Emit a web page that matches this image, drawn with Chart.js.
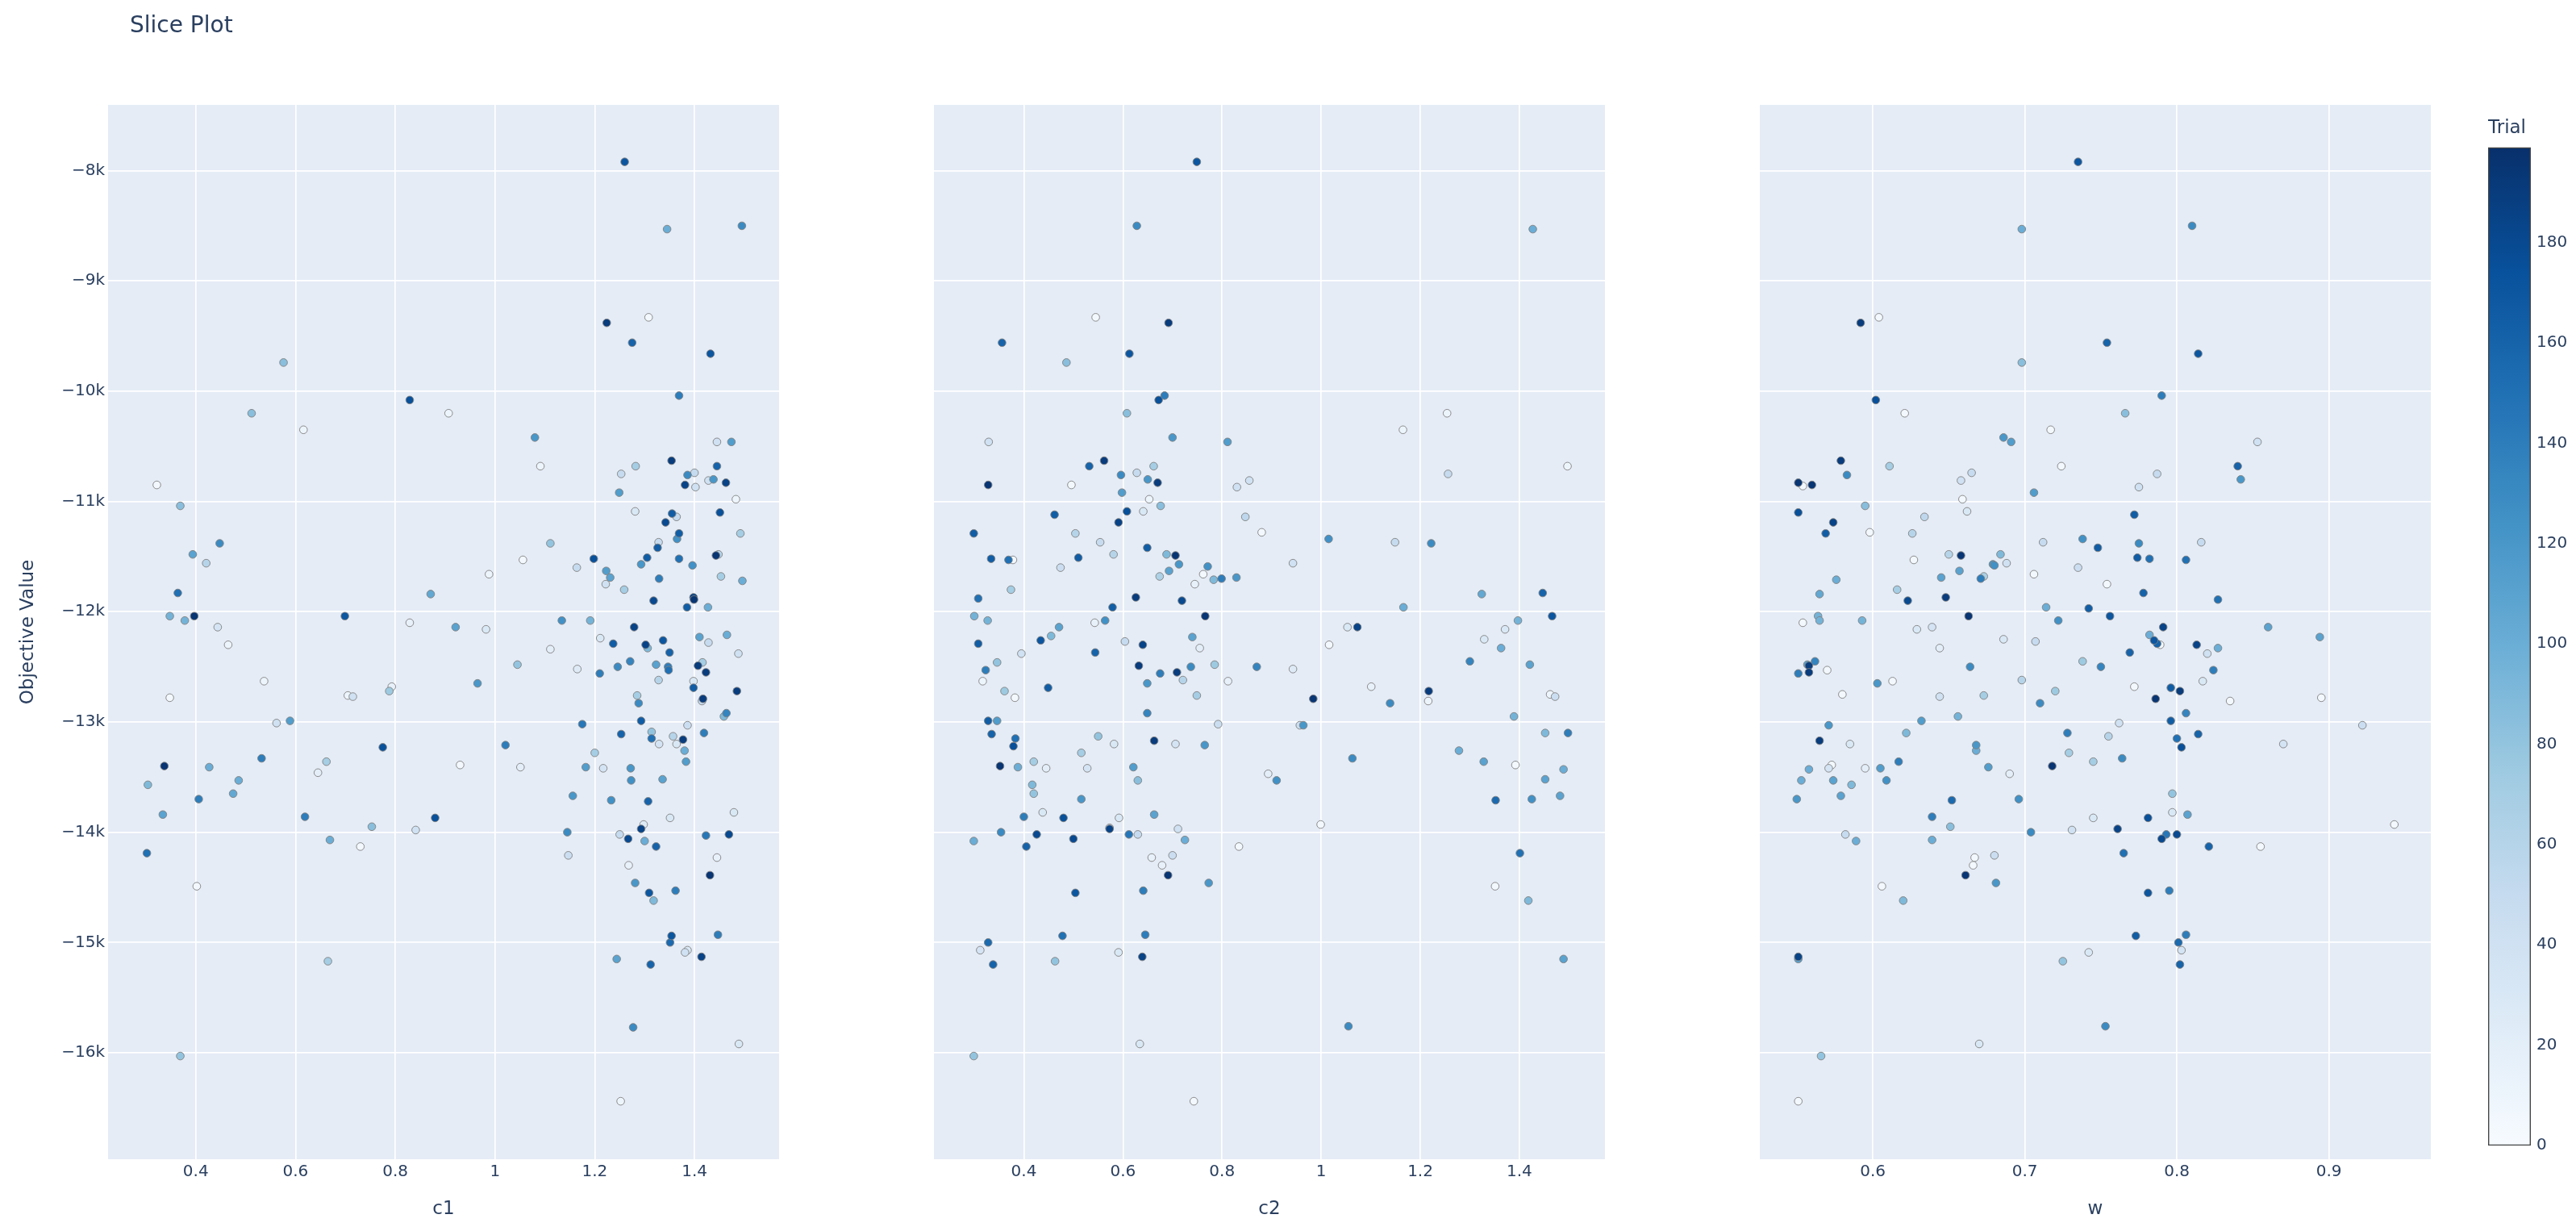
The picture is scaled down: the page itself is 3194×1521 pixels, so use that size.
<!DOCTYPE html>
<html>
<head>
<meta charset="utf-8">
<title>Slice Plot</title>
<script src="https://cdn.jsdelivr.net/npm/chart.js@4.4.0/dist/chart.umd.min.js"></script>
<style>
  body { margin: 0; background: #fff; width: 3194px; height: 1521px; position: relative; overflow: hidden; }
  .box { position: absolute; top: 0; height: 1521px; }
</style>
</head>
<body>
<div class="box" style="left:0;width:966px"><canvas id="c1Chart"></canvas></div>
<div class="box" style="left:1158px;width:832px"><canvas id="c2Chart"></canvas></div>
<div class="box" style="left:2182px;width:832px"><canvas id="wChart"></canvas></div>
<div class="box" style="left:3085px;width:109px"><canvas id="trialBar"></canvas></div>
<script>
// each point: [parameter value, objective value, trial number]
const c1Points = [
  [1.260,-7920,170],[1.345,-8530,100],[1.495,-8500,130],[1.224,-9380,190],[1.308,-9330,5],
  [1.275,-9560,160],[1.432,-9660,170],[0.576,-9740,85],[1.369,-10040,140],[0.829,-10080,175],
  [0.512,-10200,85],[0.907,-10200,10],[0.616,-10350,10],[1.080,-10420,120],[1.445,-10460,40],
  [1.474,-10460,115],[1.354,-10630,190],[1.091,-10680,10],[1.282,-10680,70],[1.445,-10680,160],
  [0.322,-10850,5],[1.253,-10750,50],[1.386,-10760,130],[1.400,-10740,50],[1.381,-10850,185],
  [1.402,-10870,40],[1.428,-10810,40],[1.438,-10800,120],[1.463,-10830,185],[1.249,-10920,115],
  [1.483,-10980,10],[0.369,-11040,85],[1.281,-11090,30],[1.355,-11110,165],[1.364,-11140,50],
  [1.451,-11100,175],[1.342,-11190,180],[1.369,-11290,165],[1.365,-11340,125],[1.492,-11290,70],
  [0.448,-11380,130],[1.111,-11380,80],[1.328,-11370,50],[1.326,-11420,165],[0.394,-11480,110],
  [0.421,-11560,60],[1.056,-11530,5],[1.198,-11520,175],[1.305,-11510,165],[1.369,-11520,150],
  [1.443,-11490,195],[1.448,-11480,60],[1.293,-11570,120],[1.396,-11580,125],[1.164,-11600,50],
  [1.223,-11630,115],[1.231,-11690,110],[0.988,-11660,10],[1.453,-11680,70],[1.496,-11720,100],
  [1.329,-11700,140],[1.222,-11750,40],[1.259,-11800,70],[0.364,-11830,150],[0.871,-11840,105],
  [1.318,-11900,180],[1.398,-11870,185],[1.399,-11890,195],[1.385,-11960,165],[1.427,-11960,100],
  [0.348,-12040,95],[0.378,-12080,95],[0.397,-12040,195],[0.699,-12040,170],[0.444,-12140,35],
  [0.829,-12100,15],[0.921,-12140,110],[0.982,-12160,30],[1.134,-12080,125],[1.191,-12080,95],
  [1.279,-12140,185],[0.465,-12300,10],[1.211,-12240,30],[1.237,-12290,165],[1.302,-12300,185],
  [1.306,-12330,90],[1.337,-12260,170],[1.350,-12370,160],[1.410,-12230,110],[1.428,-12280,50],
  [1.465,-12210,100],[1.488,-12380,40],[1.111,-12340,20],[1.045,-12480,80],[1.165,-12520,25],
  [1.210,-12560,140],[1.246,-12500,130],[1.271,-12450,135],[1.323,-12480,110],[1.347,-12500,140],
  [1.348,-12530,150],[1.416,-12460,70],[1.407,-12490,190],[1.423,-12550,190],[0.537,-12630,10],
  [0.965,-12650,120],[1.328,-12620,60],[1.398,-12630,30],[0.348,-12780,5],[0.705,-12760,10],
  [0.715,-12770,40],[0.793,-12680,15],[0.788,-12720,75],[1.398,-12690,165],[1.485,-12720,190],
  [1.285,-12760,70],[1.288,-12830,130],[1.417,-12790,190],[1.415,-12810,50],[0.562,-13010,40],
  [0.589,-12990,115],[1.175,-13020,145],[1.293,-12990,165],[1.386,-13030,45],[1.459,-12950,90],
  [1.464,-12920,135],[0.775,-13230,175],[1.021,-13210,140],[1.253,-13110,160],[1.314,-13090,80],
  [1.314,-13150,150],[1.329,-13200,35],[1.357,-13130,60],[1.364,-13200,30],[1.377,-13160,190],
  [1.419,-13100,140],[1.380,-13260,100],[1.200,-13280,70],[0.337,-13400,195],[0.427,-13410,100],
  [0.532,-13330,140],[0.662,-13360,70],[0.645,-13460,20],[0.930,-13390,5],[1.051,-13410,20],
  [1.182,-13410,115],[1.217,-13420,35],[1.272,-13420,120],[1.383,-13360,115],[0.304,-13570,90],
  [0.486,-13530,100],[0.475,-13650,105],[0.406,-13700,140],[1.156,-13670,120],[1.233,-13710,125],
  [1.273,-13530,125],[1.336,-13520,110],[1.307,-13720,160],[1.479,-13820,30],[0.334,-13840,110],
  [0.619,-13860,140],[0.753,-13950,85],[0.841,-13980,40],[0.880,-13870,175],[1.351,-13870,30],
  [1.298,-13930,25],[1.293,-13970,185],[1.145,-14000,130],[1.250,-14020,50],[1.267,-14060,180],
  [1.300,-14080,100],[1.323,-14130,160],[1.423,-14030,145],[1.469,-14020,180],[0.302,-14190,150],
  [0.669,-14070,100],[0.730,-14130,5],[1.147,-14210,45],[1.445,-14230,15],[1.268,-14300,15],
  [1.431,-14390,195],[0.402,-14490,5],[1.281,-14460,120],[1.309,-14550,170],[1.362,-14530,140],
  [1.318,-14620,90],[1.354,-14940,170],[1.447,-14930,140],[1.351,-15000,155],[1.381,-15090,40],
  [1.386,-15070,30],[0.665,-15170,70],[1.244,-15150,110],[1.312,-15200,160],[1.414,-15130,185],
  [1.277,-15770,130],[1.489,-15920,30],[0.369,-16030,80],[1.252,-16440,10]
];

const c2Points = [
  [0.749,-7920,170],[0.628,-8500,130],[1.427,-8530,100],[0.545,-9330,5],[0.692,-9380,190],
  [0.356,-9560,160],[0.613,-9660,170],[0.486,-9740,85],[0.684,-10040,140],[0.672,-10080,175],
  [0.608,-10200,85],[1.254,-10200,10],[1.165,-10350,10],[0.329,-10460,40],[0.700,-10420,120],
  [0.811,-10460,115],[0.562,-10630,190],[0.532,-10680,160],[0.662,-10680,70],[1.497,-10680,10],
  [0.328,-10850,195],[0.496,-10850,5],[0.596,-10760,130],[0.628,-10740,50],[0.650,-10800,120],
  [0.670,-10830,190],[0.598,-10920,115],[0.830,-10870,40],[0.855,-10810,40],[1.256,-10750,50],
  [0.653,-10980,10],[0.676,-11040,85],[0.462,-11120,165],[0.608,-11090,175],[0.641,-11090,30],
  [0.591,-11190,185],[0.847,-11140,55],[0.299,-11290,165],[0.504,-11290,60],[0.880,-11280,5],
  [1.015,-11340,125],[1.149,-11370,50],[1.222,-11380,130],[0.554,-11370,50],[0.649,-11420,165],
  [0.334,-11520,165],[0.378,-11530,5],[0.369,-11530,150],[0.510,-11510,165],[0.581,-11480,60],
  [0.688,-11480,90],[0.706,-11490,195],[0.713,-11570,120],[0.693,-11630,110],[0.474,-11600,45],
  [0.771,-11590,125],[0.943,-11560,40],[0.762,-11660,5],[0.674,-11680,65],[0.783,-11710,90],
  [0.799,-11700,140],[0.829,-11690,120],[0.745,-11750,15],[0.374,-11800,70],[0.308,-11880,150],
  [0.626,-11870,190],[0.719,-11900,180],[1.324,-11840,105],[1.447,-11830,160],[0.579,-11960,165],
  [1.166,-11960,100],[0.300,-12040,95],[0.327,-12080,95],[0.766,-12040,195],[1.466,-12040,170],
  [0.543,-12100,15],[0.564,-12080,125],[0.471,-12140,110],[0.455,-12220,90],[0.434,-12260,170],
  [1.053,-12140,30],[1.073,-12140,185],[1.397,-12080,95],[1.371,-12160,30],[0.740,-12230,110],
  [0.308,-12290,165],[0.604,-12270,50],[0.640,-12300,185],[0.755,-12330,20],[1.016,-12300,5],
  [1.329,-12250,30],[1.363,-12330,100],[0.395,-12380,40],[0.544,-12370,160],[0.346,-12460,80],
  [0.323,-12530,140],[0.632,-12490,190],[0.675,-12560,140],[0.709,-12550,190],[0.737,-12500,130],
  [0.785,-12480,75],[0.870,-12500,135],[0.943,-12520,25],[1.300,-12450,135],[1.421,-12480,110],
  [0.317,-12630,10],[0.649,-12650,120],[0.721,-12620,60],[0.812,-12630,15],[0.449,-12690,165],
  [0.361,-12720,75],[0.382,-12780,5],[0.749,-12760,70],[1.101,-12680,15],[1.217,-12720,190],
  [1.216,-12810,10],[0.984,-12790,195],[1.139,-12830,130],[1.462,-12750,10],[1.472,-12770,45],
  [0.649,-12920,135],[1.389,-12950,95],[0.328,-12990,165],[0.346,-12990,115],[0.792,-13020,45],
  [0.957,-13030,45],[0.964,-13030,120],[0.335,-13110,160],[0.383,-13150,150],[0.379,-13220,175],
  [0.550,-13130,80],[0.582,-13200,30],[0.663,-13170,190],[0.706,-13200,35],[0.765,-13210,120],
  [1.452,-13100,90],[1.498,-13100,140],[0.516,-13280,70],[1.063,-13330,130],[1.278,-13260,100],
  [1.328,-13360,110],[1.392,-13390,5],[1.489,-13430,100],[0.352,-13400,195],[0.388,-13410,100],
  [0.420,-13360,70],[0.445,-13420,20],[0.528,-13420,35],[0.621,-13410,115],[0.630,-13530,85],
  [0.893,-13470,20],[0.910,-13530,125],[1.452,-13520,110],[0.417,-13570,90],[0.420,-13650,80],
  [0.516,-13700,120],[1.352,-13710,155],[1.425,-13700,125],[1.482,-13670,110],[0.400,-13860,140],
  [0.438,-13820,30],[0.480,-13870,175],[0.592,-13870,30],[0.663,-13840,110],[0.999,-13930,5],
  [0.354,-14000,130],[0.426,-14020,180],[0.500,-14060,180],[0.299,-14080,100],[0.405,-14130,160],
  [0.573,-13960,25],[0.573,-13970,185],[0.612,-14020,145],[0.630,-14020,50],[0.711,-13970,40],
  [0.725,-14070,100],[0.834,-14130,5],[1.401,-14190,150],[0.658,-14230,15],[0.700,-14210,45],
  [0.679,-14300,15],[0.691,-14390,195],[0.773,-14460,120],[1.351,-14490,5],[0.504,-14550,170],
  [0.641,-14530,140],[1.418,-14620,90],[0.478,-14940,150],[0.645,-14930,140],[0.328,-15000,155],
  [0.312,-15070,35],[0.591,-15090,30],[0.338,-15200,160],[0.463,-15170,80],[0.639,-15130,185],
  [1.489,-15150,110],[1.055,-15760,130],[0.634,-15920,30],[0.299,-16030,80],[0.743,-16440,5]
];

const wPoints = [
  [0.735,-7920,170],[0.698,-8530,100],[0.810,-8500,130],[0.592,-9380,190],[0.604,-9330,5],
  [0.754,-9560,160],[0.814,-9660,170],[0.698,-9740,85],[0.790,-10040,140],[0.602,-10080,175],
  [0.621,-10200,5],[0.766,-10200,85],[0.717,-10350,5],[0.686,-10420,120],[0.691,-10460,115],
  [0.853,-10460,40],[0.579,-10630,190],[0.611,-10680,70],[0.724,-10680,5],[0.840,-10680,160],
  [0.551,-10830,195],[0.560,-10850,195],[0.554,-10860,5],[0.583,-10760,130],[0.658,-10810,40],
  [0.665,-10740,50],[0.706,-10920,115],[0.775,-10870,40],[0.787,-10750,50],[0.842,-10800,120],
  [0.659,-10980,5],[0.551,-11100,175],[0.595,-11040,85],[0.574,-11190,185],[0.569,-11290,165],
  [0.598,-11280,5],[0.634,-11140,55],[0.662,-11090,30],[0.626,-11290,60],[0.772,-11120,165],
  [0.712,-11370,50],[0.738,-11340,125],[0.748,-11420,165],[0.775,-11380,130],[0.816,-11370,50],
  [0.627,-11530,5],[0.650,-11480,60],[0.658,-11490,195],[0.684,-11480,90],[0.679,-11570,120],
  [0.680,-11580,125],[0.688,-11560,40],[0.774,-11510,165],[0.782,-11520,150],[0.806,-11530,150],
  [0.657,-11630,110],[0.645,-11690,110],[0.673,-11680,65],[0.671,-11700,140],[0.706,-11660,5],
  [0.735,-11600,45],[0.576,-11710,100],[0.754,-11750,5],[0.565,-11840,105],[0.616,-11800,70],
  [0.623,-11900,180],[0.648,-11870,190],[0.778,-11830,160],[0.827,-11890,150],[0.564,-12040,95],
  [0.565,-12080,95],[0.554,-12100,5],[0.593,-12080,95],[0.663,-12040,195],[0.714,-11960,100],
  [0.742,-11970,165],[0.756,-12040,170],[0.722,-12080,125],[0.629,-12160,30],[0.639,-12140,35],
  [0.791,-12140,185],[0.860,-12140,110],[0.894,-12230,110],[0.686,-12250,30],[0.707,-12270,50],
  [0.782,-12210,100],[0.785,-12260,170],[0.787,-12290,160],[0.789,-12300,5],[0.813,-12300,185],
  [0.827,-12330,100],[0.820,-12380,40],[0.769,-12370,160],[0.644,-12330,20],[0.562,-12450,135],
  [0.557,-12480,110],[0.558,-12490,190],[0.551,-12560,140],[0.558,-12550,190],[0.570,-12530,5],
  [0.664,-12500,130],[0.738,-12450,75],[0.750,-12500,135],[0.824,-12530,140],[0.603,-12650,120],
  [0.613,-12630,5],[0.698,-12620,60],[0.772,-12680,5],[0.796,-12690,165],[0.802,-12720,190],
  [0.817,-12630,30],[0.580,-12750,5],[0.644,-12770,40],[0.673,-12760,70],[0.720,-12720,75],
  [0.710,-12830,130],[0.786,-12790,195],[0.835,-12810,5],[0.895,-12780,5],[0.656,-12950,95],
  [0.632,-12990,115],[0.806,-12920,135],[0.796,-12990,165],[0.571,-13030,120],[0.762,-13010,40],
  [0.922,-13030,45],[0.565,-13170,190],[0.585,-13200,30],[0.622,-13100,90],[0.668,-13210,120],
  [0.668,-13260,100],[0.728,-13100,140],[0.755,-13130,60],[0.800,-13150,150],[0.803,-13230,175],
  [0.814,-13110,160],[0.870,-13200,35],[0.729,-13280,70],[0.558,-13430,100],[0.571,-13420,35],
  [0.573,-13390,5],[0.595,-13420,20],[0.605,-13420,115],[0.617,-13360,140],[0.676,-13410,115],
  [0.690,-13470,20],[0.718,-13400,195],[0.745,-13360,70],[0.764,-13330,130],[0.553,-13530,100],
  [0.574,-13530,110],[0.586,-13570,90],[0.609,-13530,125],[0.550,-13700,120],[0.579,-13670,110],
  [0.652,-13710,155],[0.696,-13700,125],[0.797,-13650,80],[0.639,-13860,140],[0.651,-13950,85],
  [0.745,-13870,30],[0.781,-13870,175],[0.797,-13820,30],[0.807,-13840,110],[0.943,-13930,5],
  [0.582,-14020,50],[0.589,-14080,100],[0.639,-14070,100],[0.704,-14000,130],[0.731,-13980,40],
  [0.761,-13970,185],[0.790,-14060,180],[0.793,-14020,145],[0.800,-14020,180],[0.821,-14130,160],
  [0.855,-14130,5],[0.765,-14190,150],[0.667,-14230,5],[0.680,-14210,45],[0.666,-14300,5],
  [0.661,-14390,195],[0.681,-14460,120],[0.606,-14490,5],[0.620,-14620,90],[0.781,-14550,170],
  [0.795,-14530,140],[0.773,-14940,165],[0.806,-14930,140],[0.801,-15000,155],[0.803,-15070,35],
  [0.742,-15090,30],[0.725,-15170,80],[0.802,-15200,160],[0.551,-15150,110],[0.551,-15130,185],
  [0.753,-15760,130],[0.670,-15920,30],[0.566,-16030,80],[0.551,-16440,5]
];

const objectiveTicks = [-8000, -9000, -10000, -11000, -12000, -13000, -14000, -15000, -16000];
const c1Ticks = [0.4, 0.6, 0.8, 1, 1.2, 1.4];
const c2Ticks = [0.4, 0.6, 0.8, 1, 1.2, 1.4];
const wTicks = [0.6, 0.7, 0.8, 0.9];
const trialTicks = [0, 20, 40, 60, 80, 100, 120, 140, 160, 180];
const maxTrial = 199;

// plotly "Blues"
const blues = [
  [0, [247,251,255]], [0.125, [222,235,247]], [0.25, [198,219,239]], [0.375, [158,202,225]],
  [0.5, [107,174,214]], [0.625, [66,146,198]], [0.75, [33,113,181]], [0.875, [8,81,156]], [1, [8,48,107]]
];

function trialColor(t) {
  let f = Math.min(1, Math.max(0, t / maxTrial));
  for (let i = 1; i < blues.length; i++) {
    if (f <= blues[i][0]) {
      let a = blues[i-1], b = blues[i];
      let k = (f - a[0]) / (b[0] - a[0]);
      let c = a[1].map((v, j) => Math.round(v + (b[1][j] - v) * k));
      return 'rgb(' + c.join(',') + ')';
    }
  }
  return 'rgb(8,48,107)';
}

Chart.defaults.font.family = '"DejaVu Sans", Verdana, sans-serif';
Chart.defaults.color = '#2a3f5f';

const plotBg = {
  id: 'plotBg',
  beforeDraw(chart) {
    const a = chart.chartArea;
    const ctx = chart.ctx;
    ctx.save();
    ctx.fillStyle = '#E5ECF6';
    ctx.fillRect(a.left, a.top, a.right - a.left, a.bottom - a.top);
    ctx.restore();
  }
};

const pageTitle = {
  id: 'pageTitle',
  afterDraw(chart) {
    const ctx = chart.ctx;
    ctx.save();
    ctx.font = '28px "DejaVu Sans", Verdana, sans-serif';
    ctx.fillStyle = '#2a3f5f';
    ctx.textBaseline = 'middle';
    ctx.fillText('Slice Plot', 161, 33);
    ctx.restore();
  }
};

function slicePanel(id, points, xMin, xMax, xTicks, xTitle, first) {
  // later trials drawn on top
  let pts = points.slice().sort((a, b) => a[2] - b[2]);
  return new Chart(document.getElementById(id), {
    type: 'scatter',
    data: {
      datasets: [{
        data: pts.map(p => ({ x: p[0], y: p[1] })),
        pointBackgroundColor: pts.map(p => trialColor(p[2])),
        pointBorderColor: 'rgb(128,128,128)',
        pointBorderWidth: 0.9,
        pointRadius: 4.8
      }]
    },
    plugins: first ? [plotBg, pageTitle] : [plotBg],
    options: {
      responsive: true,
      maintainAspectRatio: false,
      animation: false,
      events: [],
      layout: { autoPadding: false, padding: { top: 130, right: 0, bottom: 0, left: 0 } },
      plugins: { legend: { display: false }, tooltip: { enabled: false } },
      scales: {
        x: {
          type: 'linear',
          min: xMin,
          max: xMax,
          afterBuildTicks: axis => { axis.ticks = xTicks.map(v => ({ value: v })); },
          afterFit: axis => { axis.height = 84; },
          grid: { color: '#ffffff', lineWidth: 1.7, drawTicks: false },
          border: { display: false },
          ticks: { padding: 4, font: { size: 20 }, callback: v => String(v) },
          title: { display: true, text: xTitle, font: { size: 23 }, padding: { top: 0, bottom: 8 } }
        },
        y: {
          type: 'linear',
          min: -16966,
          max: -7403,
          afterBuildTicks: axis => { axis.ticks = objectiveTicks.map(v => ({ value: v })); },
          afterFit: axis => { axis.width = first ? 134 : 0; },
          grid: { color: '#ffffff', lineWidth: 1.7, drawTicks: false },
          border: { display: false },
          ticks: { display: first, padding: 4, font: { size: 20 }, callback: v => '\u2212' + Math.abs(v) / 1000 + 'k' },
          title: { display: first, text: 'Objective Value', font: { size: 23 }, padding: { top: 21, bottom: 0 } }
        }
      }
    }
  });
}

slicePanel('c1Chart', c1Points, 0.2242, 1.5696, c1Ticks, 'c1', true);
slicePanel('c2Chart', c2Points, 0.2186, 1.5726, c2Ticks, 'c2', false);
slicePanel('wChart', wPoints, 0.5257, 0.967, wTicks, 'w', false);

// colour bar for trial number
new Chart(document.getElementById('trialBar'), {
  type: 'bar',
  data: {
    labels: ['Trial'],
    datasets: [{
      data: [[0, maxTrial]],
      backgroundColor: c => {
        const a = c.chart.chartArea;
        if (!a) return '#ffffff';
        const g = c.chart.ctx.createLinearGradient(0, a.bottom, 0, a.top);
        blues.forEach(s => g.addColorStop(s[0], 'rgb(' + s[1].join(',') + ')'));
        return g;
      },
      borderColor: '#444',
      borderWidth: 1.7,
      borderSkipped: false,
      barPercentage: 1,
      categoryPercentage: 1
    }]
  },
  options: {
    responsive: true,
    maintainAspectRatio: false,
    animation: false,
    events: [],
    layout: { autoPadding: false, padding: { top: 0, right: 0, bottom: 101, left: 0 } },
    plugins: {
      legend: { display: false },
      tooltip: { enabled: false },
      title: { display: true, text: 'Trial', align: 'start', font: { size: 23, weight: 'normal' }, color: '#2a3f5f', padding: { top: 145, bottom: 10 } }
    },
    scales: {
      x: { display: false },
      y: {
        position: 'right',
        min: 0,
        max: maxTrial,
        afterBuildTicks: axis => { axis.ticks = trialTicks.map(v => ({ value: v })); },
        afterFit: axis => { axis.width = 56; },
        grid: { display: false, drawTicks: false },
        border: { display: false },
        ticks: { padding: 7, font: { size: 20 } }
      }
    }
  }
});
</script>
</body>
</html>
